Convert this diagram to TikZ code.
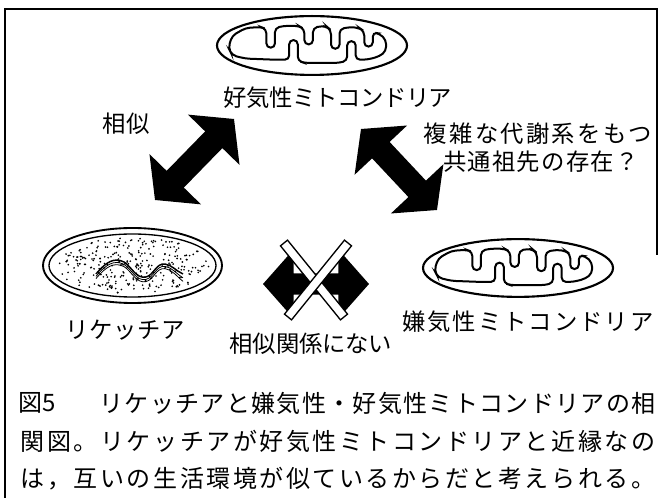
\documentclass[tikz,border=0pt]{standalone}
\usepackage{fontspec}
\newfontfamily\jpfont{Noto Sans CJK JP}
\usetikzlibrary{calc}

% set a string of characters on a fixed pitch, one cell per character
\makeatletter
\newlength\cellwd
\newcommand\cells[2]{\setlength\cellwd{#1}\cells@next#2\relax}
\def\cells@next#1{\ifx\relax#1\else\makebox[\cellwd]{#1}\expandafter\cells@next\fi}
\makeatother

% thick double-headed arrow between two named points
% #1,#2 tips; #3 head length; #4 head half width; #5 shaft half width
\newcommand\fatarrow[5]{%
  \fill (#1)
    -- ($(#1)!#3!(#2)!#4!90:(#2)$)
    -- ($(#1)!#3!(#2)!#5!90:(#2)$)
    -- ($(#2)!#3!(#1)!#5!-90:(#1)$)
    -- ($(#2)!#3!(#1)!#4!-90:(#1)$)
    -- (#2)
    -- ($(#2)!#3!(#1)!#4!90:(#1)$)
    -- ($(#2)!#3!(#1)!#5!90:(#1)$)
    -- ($(#1)!#3!(#2)!#5!-90:(#2)$)
    -- ($(#1)!#3!(#2)!#4!-90:(#2)$)
    -- cycle;}

% white bar with a black outline between two named points
\newcommand\whitebar[3]{%
  \filldraw[fill=white, draw=black, line width=1pt]
    ($(#1)!#3!90:(#2)$) -- ($(#1)!#3!-90:(#2)$)
    -- ($(#2)!#3!90:(#1)$) -- ($(#2)!#3!-90:(#1)$) -- cycle;}

\tikzset{
  lbl/.style={inner sep=0pt, font=\jpfont\fontsize{17.5}{20}\selectfont},
  captxt/.style={inner sep=0pt, font=\jpfont\fontsize{18}{20}\selectfont},
  membrane/.style={line width=1.6pt},
  pics/mito/.style={code={
    \draw[membrane] (0,0) ellipse [x radius=100, y radius=27];
    \draw[line width=1.5pt, rounded corners=3.2pt]
      (-88,2) -- (-84,-9) -- (-70,-16) -- (-54,-17) -- (-48,-15)
      -- (-48,2) -- (-39,2) -- (-39,-16) -- (-30,-18) -- (-14,-18) -- (-8,-15)
      -- (-8,-1) -- (1,-1) -- (1,-16) -- (10,-18) -- (16,-17) -- (20,-14)
      -- (20,3) -- (29,3) -- (29,-15) -- (40,-17) -- (50,-16) -- (55,-13)
      -- (55,1) -- (64,1) -- (64,-12) -- (71,-11) -- (78,-5) -- (78,5) -- (71,10)
      -- (58,13) -- (46,13)
      -- (46,-4) -- (37,-4) -- (37,14) -- (28,16) -- (-8,16) -- (-15,14)
      -- (-15,-5) -- (-24,-5) -- (-24,13) -- (-40,13) -- (-70,12) -- (-84,9) -- cycle;
  }}
}

\begin{document}
\begin{tikzpicture}[x=0.75pt, y=-0.75pt]
  \fill[white] (0,0) rectangle (661,498);
  \useasboundingbox (0,0) rectangle (661,498);

  % frame
  \draw[line width=1pt] (5,498) -- (5,9) -- (657,9) -- (657,255);

  % aerobic mitochondrion (top)
  \pic[xscale=0.95, yscale=1.09] (aero) at (312,45.5) {mito};
  \node[lbl] (aeroLabel) at (338,98) {\cells{17.1pt}{好気性ミトコンドリア}};

  % anaerobic mitochondrion (right)
  \pic[xscale=0.95, yscale=1.07] (anaero) at (518,268) {mito};
  \node[lbl] (anaeroLabel) at (528,322) {\cells{19pt}{嫌気性ミトコンドリア}};

  % rickettsia (left)
  \draw[line width=1.4pt] (132.5,265.5) ellipse [x radius=89.5, y radius=37.5];
  \draw[line width=1pt] (132.5,265.5) ellipse [x radius=83.5, y radius=31.5];
  \pgfmathsetseed{11}
  \foreach \i in {1,...,300} {
    \pgfmathsetmacro\ang{rnd*360}
    \pgfmathsetmacro\rr{sqrt(rnd)*0.93}
    \fill ({132.5+\rr*82*cos(\ang)}, {265.5+\rr*30*sin(\ang)}) circle (0.7pt);
  }
  \foreach \dy/\w in {0/1.1pt, 2.4/0.6pt, 4.6/0.6pt} {
    \draw[line width=\w] (96,274+\dy) .. controls (106,262+\dy) and (114,257+\dy) .. (124,262+\dy)
      .. controls (132,267+\dy) and (136,279+\dy) .. (146,277+\dy)
      .. controls (154,275+\dy) and (156,263+\dy) .. (165,264+\dy)
      .. controls (172,265+\dy) and (176,271+\dy) .. (183,274+1.6*\dy);
  }
  \node[lbl] (rickLabel) at (125,330) {\cells{18pt}{リケッチア}};

  % similarity arrow (left)
  \coordinate (laTop) at (234,119);
  \coordinate (laBot) at (155,200);
  \fatarrow{laTop}{laBot}{21.75pt}{27pt}{9pt}
  \node[lbl] (simLabel) at (126,124) {\cells{18pt}{相似}};

  % common ancestor arrow (right)
  \coordinate (raTop) at (361,129);
  \coordinate (raBot) at (437,210);
  \fatarrow{raTop}{raBot}{21.75pt}{27pt}{9pt}
  \node[lbl] (ancLabelA) at (538,134) {\cells{19.2pt}{複雑な代謝系をもつ}};
  \node[lbl] (ancLabelB) at (541,162) {\cells{18.5pt}{共通祖先の存在？}};

  % crossed-out arrow (bottom)
  \coordinate (xaL) at (263,284);
  \coordinate (xaR) at (369,284);
  \fatarrow{xaL}{xaR}{23pt}{26pt}{8pt}
  \coordinate (barA1) at (284,243);
  \coordinate (barA2) at (344,317);
  \coordinate (barB1) at (348,243);
  \coordinate (barB2) at (288,317);
  \whitebar{barA1}{barA2}{3.4pt}
  \whitebar{barB1}{barB2}{3.4pt}
  \node[lbl] (noSimLabel) at (311,344) {\cells{17.4pt}{相似関係にない}};

  % caption
  \node[captxt, anchor=west] (capFig) at (18,403) {図5};
  \node[captxt] (capA) at (377.5,403) {\cells{19pt}{リケッチアと嫌気性・好気性ミトコンドリアの相}};
  \node[captxt] (capB) at (338,441) {\cells{19.9pt}{関図。リケッチアが好気性ミトコンドリアと近縁なの}};
  \node[captxt] (capC) at (338,479) {\cells{19.9pt}{は，互いの生活環境が似ているからだと考えられる。}};
\end{tikzpicture}
\end{document}
